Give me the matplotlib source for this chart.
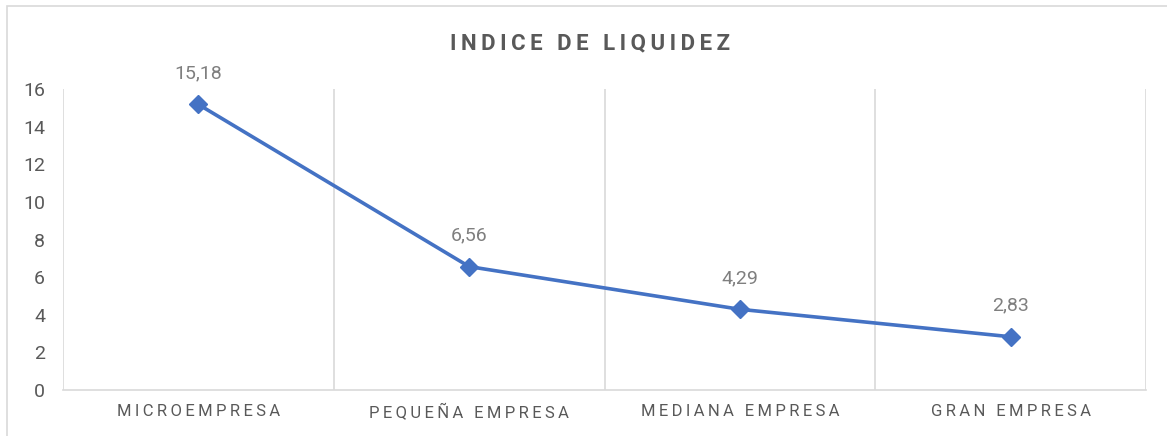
import matplotlib.pyplot as plt
from matplotlib.patches import Rectangle

categorias = ["MICROEMPRESA", "PEQUEÑA EMPRESA", "MEDIANA EMPRESA", "GRAN EMPRESA"]
valores = [15.18, 6.56, 4.29, 2.83]
etiquetas = ["15,18", "6,56", "4,29", "2,83"]
yticks = [0, 2, 4, 6, 8, 10, 12, 14, 16]

FONT = ["Roboto", "DejaVu Sans"]
GRIS = "#595959"
TS = "\u2009"  # thin space, used as letter spacing


def espaciar(s):
    return (TS + " " + TS).join(TS.join(w) for w in s.split(" "))


plt.rcParams["font.family"] = FONT

fig = plt.figure(figsize=(11.67, 4.36), dpi=100)
ax = fig.add_axes([63 / 1167, 46 / 436, (1146 - 63) / 1167, (390 - 89) / 436])

# chart border
fig.patches.append(Rectangle((7 / 1167, -0.1), 1.2, (430 + 43.6) / 436,
                             transform=fig.transFigure, fill=False,
                             edgecolor="#d9d9d9", linewidth=1.2))

x = list(range(len(categorias)))
ax.plot(x, valores, color="#4472C4", linewidth=2.6, marker="D",
        markersize=9, zorder=3)

for xi, v, t in zip(x, valores, etiquetas):
    ax.annotate(t, (xi, v), xytext=(0, 16), textcoords="offset points",
                ha="center", va="bottom", fontsize=14, color="#7f7f7f")

ax.set_xlim(-0.5, len(categorias) - 0.5)
ax.set_ylim(0, 16)
ax.set_yticks(yticks)
ax.set_yticklabels([str(v) for v in yticks], fontsize=14, color=GRIS)
ax.set_xticks(x)
ax.set_xticklabels([espaciar(c) for c in categorias], fontsize=12, color=GRIS)
ax.tick_params(length=0, pad=10)
ax.tick_params(axis="y", pad=13)

# vertical gridlines at category boundaries
for b in [i + 0.5 for i in range(-1, len(categorias))]:
    ax.axvline(b, color="#d9d9d9", linewidth=1.2, zorder=1)

for s in ["top", "right", "left"]:
    ax.spines[s].set_visible(False)
ax.spines["bottom"].set_color("#d9d9d9")
ax.spines["bottom"].set_linewidth(1.2)

fig.text(590 / 1167, 1 - 43 / 436, espaciar("INDICE DE LIQUIDEZ"),
         ha="center", va="center", fontsize=16, fontweight="bold", color=GRIS)

fig.savefig("out.png", dpi=100)
